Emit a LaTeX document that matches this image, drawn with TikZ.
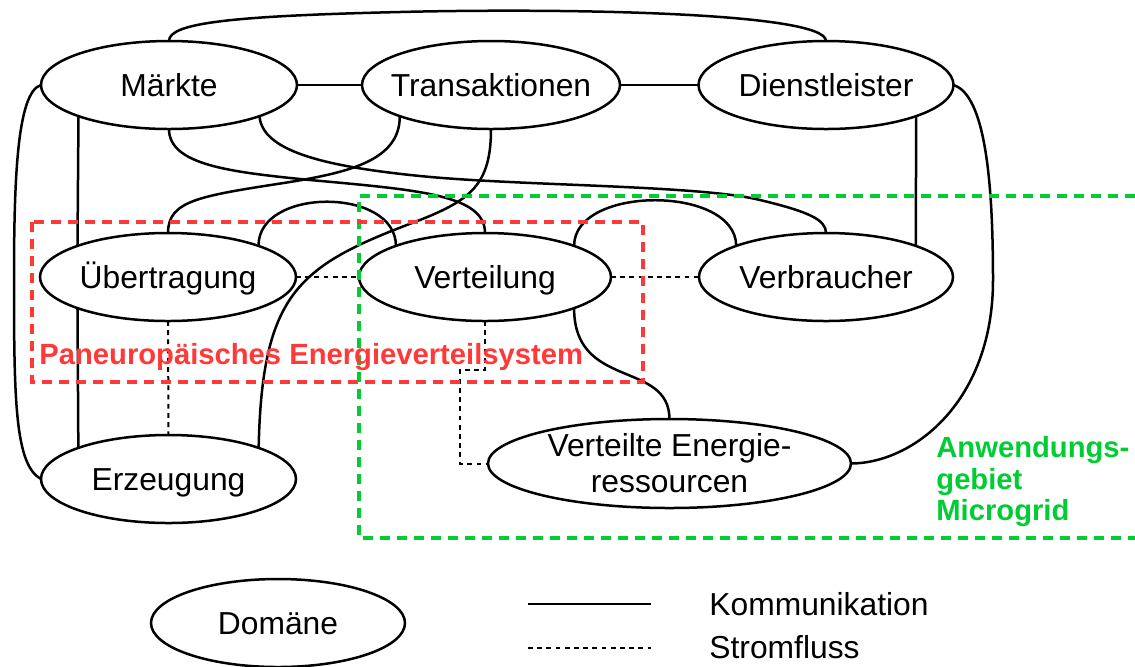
\documentclass[tikz,border=0pt]{standalone}
\usepackage{fontspec}
\setmainfont{Liberation Sans}
\usetikzlibrary{shapes.geometric}
\definecolor{areared}{RGB}{255,56,56}
\definecolor{areagreen}{RGB}{0,204,51}
% zero-width box so the ellipse size is set only by its minimum size
\newcommand\domtext[1]{\makebox[0pt]{#1}}
\begin{document}
\begin{tikzpicture}[x=0.5pt,y=-0.5pt,
  dombase/.style={ellipse,draw,line width=1.25pt,fill=white,inner sep=0pt,outer sep=0pt,
    minimum width=128pt,minimum height=44pt,font=\fontsize{15.9pt}{18pt}\selectfont},
  dom/.style={dombase,text height=11.4pt,text depth=0pt},
  comm/.style={line width=1.25pt},
  power/.style={line width=1pt,dash pattern=on 2.4pt off 2.2pt},
  areabox/.style={line width=2pt,dash pattern=on 5pt off 3.5pt},
  arealabel/.style={font=\fontsize{14.6pt}{15.75pt}\selectfont\bfseries,inner sep=0pt},
  legendtext/.style={font=\fontsize{15.9pt}{18pt}\selectfont,inner sep=0pt,anchor=base west}]
\useasboundingbox (0,0) rectangle (1135,666);

% domains
\node[dom,minimum width=128pt] (mkt) at (169,85) {\domtext{Märkte}};
\node[dom,minimum width=129pt] (tra) at (491,85) {\domtext{Transaktionen}};
\node[dom,minimum width=127.5pt] (dl) at (826,85) {\domtext{Dienstleister}};
\node[dom,minimum width=128pt] (ueb) at (168,277) {\domtext{Übertragung}};
\node[dom,minimum width=126pt] (vtl) at (485,277) {\domtext{Verteilung}};
\node[dom,minimum width=127pt] (vbr) at (826,277) {\domtext{Verbraucher}};
\node[dom,minimum width=127.5pt] (erz) at (168.5,479) {\domtext{Erzeugung}};
\node[dombase,minimum width=181.5pt,minimum height=44.5pt,align=center] (der) at (669.5,463.5)
  {\domtext{Verteilte Energie-}\\\domtext{ressourcen}};

% communication links
\draw[comm] (mkt) -- (tra);
\draw[comm] (tra) -- (dl);
\draw[comm] (mkt.north) .. controls (169,23) and (230,16) .. (400,12)
  .. controls (560,8) and (826,12) .. (dl.north);
\draw[comm] (mkt.west) .. controls (17,92) and (14,180) .. (14,280)
  .. controls (14,400) and (15,465) .. (erz.west);
\draw[comm] (mkt.south west) -- (ueb.north west);
\draw[comm] (ueb.south west) -- (erz.north west);
\draw[comm] (dl.south east) -- (vbr.north east);
\draw[comm] (dl.east) .. controls (985,95) and (993,180) .. (993,280)
  .. controls (993,400) and (915,463) .. (der.east);
\draw[comm] (mkt.south) .. controls (169,165) and (230,172) .. (310,180)
  .. controls (420,190) and (485,195) .. (vtl.north);
\draw[comm] (mkt.south east) .. controls (262,150) and (320,166) .. (420,176)
  .. controls (520,186) and (700,185) .. (760,200)
  .. controls (810,212) and (826,220) .. (vbr.north);
\draw[comm] (tra.south west) .. controls (400,160) and (350,172) .. (290,182)
  .. controls (200,196) and (168,200) .. (ueb.north);
\draw[comm] (tra.south) .. controls (491,185) and (470,200) .. (420,220)
  .. controls (300,265) and (262,290) .. (erz.north east);
\draw[comm] (ueb.north east) .. controls (258,187) and (396,187) .. (vtl.north west);
\draw[comm] (vtl.north east) .. controls (574,185) and (736,185) .. (vbr.north west);
\draw[comm] (vtl.south east) .. controls (574,390) and (669,360) .. (der.north);

% power flow
\draw[power] (ueb) -- (vtl);
\draw[power] (vtl) -- (vbr);
\draw[power] (ueb) -- (erz);
\draw[power] (vtl.south) |- (460,370) |- (der.west);

% areas
\draw[areabox,areagreen] (1135,196) -- (359,196) -- (359,538) -- (1135,538);
\draw[areabox,areared] (32,222) rectangle (643,382);
\node[arealabel,text=areared,anchor=base west] (redlabel) at (39,364)
  {Paneuropäisches Energieverteilsystem};
\node[arealabel,text=areagreen,anchor=north west,align=left] (greenlabel) at (936,436)
  {Anwendungs-\\gebiet\\Microgrid};

% legend
\node[dom,minimum width=127pt] (dom) at (278,623) {\domtext{Domäne}};
\coordinate (ka) at (528,604);
\coordinate (kb) at (651,604);
\coordinate (sa) at (528,648);
\coordinate (sb) at (651,648);
\draw[comm] (ka) -- (kb);
\draw[power] (sa) -- (sb);
\node[legendtext] (kl) at (709,615) {Kommunikation};
\node[legendtext] (sl) at (709,658) {Stromfluss};
\end{tikzpicture}
\end{document}
